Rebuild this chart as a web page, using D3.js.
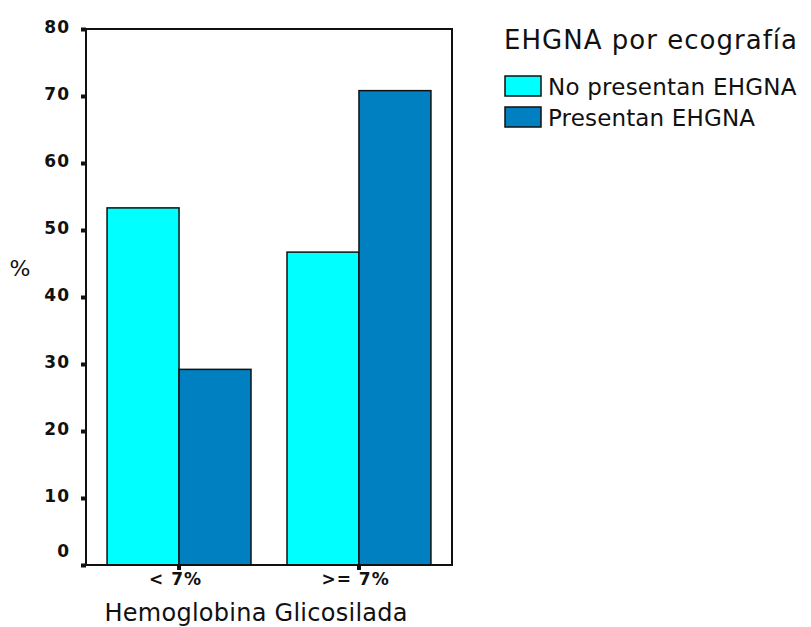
<!DOCTYPE html>
<html lang="es">
<head>
<meta charset="UTF-8">
<title>EHGNA por ecografía</title>
<script src="https://d3js.org/d3.v7.min.js"></script>
<style>
    body { margin: 0; background: #fff; }
    svg text { fill: #111; }
    .tick-label { font-family: "DejaVu Sans", sans-serif; font-weight: bold; font-size: 17px; letter-spacing: 1px; }
    .big { font-family: "DejaVu Sans", sans-serif; }
</style>
</head>
<body>
<svg width="811" height="627"></svg>
<script>
    // data
    const categories = ["< 7%", ">= 7%"];
    const seriesNames = ["No presentan EHGNA", "Presentan EHGNA"];
    const noPresentan = [53.3, 46.7];
    const presentan = [29.2, 70.8];
    const yTicks = [0, 10, 20, 30, 40, 50, 60, 70, 80];

    const colors = ["#00ffff", "#0080c0"];
    const margin = { left: 86, top: 29, right: 452, bottom: 565 };

    const svg = d3.select("svg");

    const x = d3.scaleBand()
        .domain(categories)
        .range([margin.left, margin.right])
        .paddingInner(0.2)
        .paddingOuter(0.117);

    const xs = d3.scaleBand()
        .domain(seriesNames)
        .range([0, x.bandwidth()]);

    const y = d3.scaleLinear()
        .domain([0, 80])
        .range([margin.bottom, margin.top]);

    const rows = categories.map((c, i) => ({
        cat: c,
        values: [noPresentan[i], presentan[i]]
    }));

    // bars
    const groups = svg.append("g")
        .selectAll("g")
        .data(rows)
        .join("g")
        .attr("transform", d => `translate(${x(d.cat)},0)`);

    groups.selectAll("rect")
        .data(d => d.values.map((v, j) => ({ v, j })))
        .join("rect")
        .attr("x", d => xs(seriesNames[d.j]))
        .attr("width", xs.bandwidth())
        .attr("y", d => y(d.v))
        .attr("height", d => y(0) - y(d.v))
        .attr("fill", d => colors[d.j])
        .attr("stroke", "#111")
        .attr("stroke-width", 1.5);

    // frame
    svg.append("rect")
        .attr("x", margin.left)
        .attr("y", margin.top)
        .attr("width", margin.right - margin.left)
        .attr("height", margin.bottom - margin.top)
        .attr("fill", "none")
        .attr("stroke", "#111")
        .attr("stroke-width", 2);

    // y axis (the 0 label sits a bit higher, as in the original)
    const yAxis = svg.append("g")
        .attr("transform", `translate(${margin.left},0)`)
        .call(d3.axisLeft(y).tickValues(yTicks).tickSize(5).tickPadding(11));
    yAxis.select(".domain").remove();
    yAxis.selectAll(".tick line").attr("stroke", "#111").attr("stroke-width", 4);
    yAxis.selectAll(".tick text")
        .attr("class", "tick-label")
        .attr("dy", d => d === 0 ? "-0.5em" : "0.22em");

    // x axis
    const xAxis = svg.append("g")
        .attr("transform", `translate(0,${margin.bottom})`)
        .call(d3.axisBottom(x).tickSize(5).tickPadding(3));
    xAxis.select(".domain").remove();
    xAxis.selectAll(".tick line").attr("stroke", "#111").attr("stroke-width", 4);
    xAxis.selectAll(".tick text").attr("class", "tick-label").attr("dx", "-0.2em");

    // axis titles
    svg.append("text")
        .attr("class", "big")
        .attr("x", 20)
        .attr("y", 276)
        .attr("text-anchor", "middle")
        .style("font-size", "22px")
        .text("%");

    svg.append("text")
        .attr("class", "big")
        .attr("x", 256)
        .attr("y", 621)
        .attr("text-anchor", "middle")
        .style("font-size", "24px")
        .attr("textLength", 303)
        .text("Hemoglobina Glicosilada");

    // legend
    svg.append("text")
        .attr("class", "big")
        .attr("x", 504)
        .attr("y", 49)
        .style("font-size", "26px")
        .attr("textLength", 293)
        .text("EHGNA por ecografía");

    const legend = svg.append("g")
        .selectAll("g")
        .data(seriesNames)
        .join("g")
        .attr("transform", (d, i) => `translate(505,${76 + i * 31})`);

    legend.append("rect")
        .attr("width", 36)
        .attr("height", 20)
        .attr("fill", (d, i) => colors[i])
        .attr("stroke", "#111")
        .attr("stroke-width", 1.5);

    legend.append("text")
        .attr("class", "big")
        .attr("x", 43)
        .attr("y", 19)
        .style("font-size", "23px")
        .attr("textLength", d => d.length * 13.8)
        .text(d => d);
</script>
</body>
</html>
